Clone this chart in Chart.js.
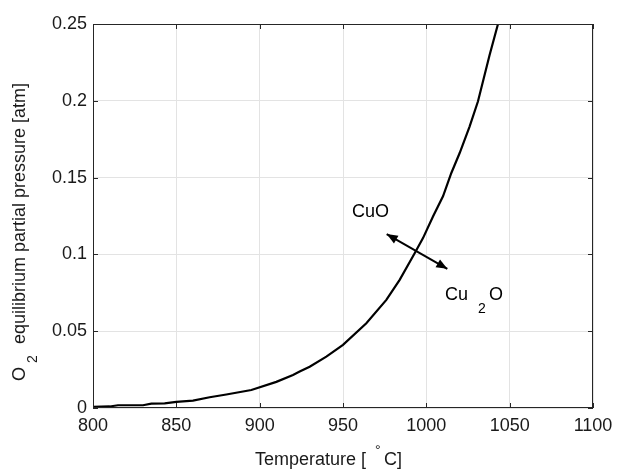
<!DOCTYPE html>
<html>
<head>
<meta charset="utf-8">
<script src="https://cdn.jsdelivr.net/npm/chart.js@4/dist/chart.umd.min.js"></script>
<style>
  html, body { margin: 0; padding: 0; background: #fff; }
  #wrap { width: 620px; height: 470px; }
</style>
</head>
<body>
<div id="wrap"><canvas id="chart" width="620" height="470"></canvas></div>
<script>
// temperature [°C] and O2 equilibrium pressure [atm]
const temps = [800, 810, 815, 830, 835, 843, 850, 860, 870, 880, 895, 910, 920, 924, 930, 940, 950, 964, 976, 984, 993, 998, 1004, 1010, 1015, 1020, 1026, 1031, 1038, 1043];
const pressure = [0.0008, 0.001, 0.0018, 0.0018, 0.0028, 0.003, 0.004, 0.0048, 0.007, 0.0088, 0.0117, 0.017, 0.0215, 0.0237, 0.0269, 0.0334, 0.0411, 0.0552, 0.0704, 0.0834, 0.1008, 0.1106, 0.1247, 0.1378, 0.153, 0.166, 0.1834, 0.1997, 0.23, 0.25];

const xTicks = [800, 850, 900, 950, 1000, 1050, 1100];
const yTicks = [0, 0.05, 0.1, 0.15, 0.2, 0.25];

// annotation anchors in data units
const arrowFrom = [976.2, 0.1132];
const arrowTo = [1012.6, 0.0906];
const cuoLabel = [955.4, 0.1245];
const cu2oLabel = [1011.2, 0.0704];

const FONT = '"Liberation Sans", Arial, Helvetica, sans-serif';
const AXIS_COLOR = '#262626';

function arrowHead(ctx, x, y, fromX, fromY) {
  const ang = Math.atan2(y - fromY, x - fromX);
  const len = 11, half = 4.5;
  ctx.beginPath();
  ctx.moveTo(x, y);
  ctx.lineTo(x - len * Math.cos(ang) + half * Math.sin(ang), y - len * Math.sin(ang) - half * Math.cos(ang));
  ctx.lineTo(x - len * Math.cos(ang) - half * Math.sin(ang), y - len * Math.sin(ang) + half * Math.cos(ang));
  ctx.closePath();
  ctx.fill();
}

const decorations = {
  id: 'decorations',
  afterDatasetsDraw(chart) {
    const { ctx, chartArea: a, scales: { x, y } } = chart;
    ctx.save();

    // box and inward ticks
    ctx.strokeStyle = AXIS_COLOR;
    ctx.lineWidth = 1;
    ctx.strokeRect(a.left + 0.5, a.top + 0.5, a.right - a.left - 1, a.bottom - a.top - 1);
    ctx.beginPath();
    xTicks.forEach(v => {
      const px = Math.round(x.getPixelForValue(v)) + 0.5;
      ctx.moveTo(px, a.bottom); ctx.lineTo(px, a.bottom - 5);
      ctx.moveTo(px, a.top); ctx.lineTo(px, a.top + 5);
    });
    yTicks.forEach(v => {
      const py = Math.round(y.getPixelForValue(v)) + 0.5;
      ctx.moveTo(a.left, py); ctx.lineTo(a.left + 5, py);
      ctx.moveTo(a.right, py); ctx.lineTo(a.right - 5, py);
    });
    ctx.stroke();

    // double arrow
    const x1 = x.getPixelForValue(arrowFrom[0]), y1 = y.getPixelForValue(arrowFrom[1]);
    const x2 = x.getPixelForValue(arrowTo[0]), y2 = y.getPixelForValue(arrowTo[1]);
    ctx.strokeStyle = '#000';
    ctx.fillStyle = '#000';
    ctx.lineWidth = 2;
    ctx.beginPath();
    ctx.moveTo(x1, y1); ctx.lineTo(x2, y2);
    ctx.stroke();
    arrowHead(ctx, x1, y1, x2, y2);
    arrowHead(ctx, x2, y2, x1, y1);

    // phase labels
    ctx.textBaseline = 'alphabetic';
    ctx.textAlign = 'left';
    ctx.fillStyle = '#000';
    ctx.font = '18px ' + FONT;
    ctx.fillText('CuO', x.getPixelForValue(cuoLabel[0]), y.getPixelForValue(cuoLabel[1]));
    const cx = x.getPixelForValue(cu2oLabel[0]), cy = y.getPixelForValue(cu2oLabel[1]);
    ctx.fillText('Cu', cx, cy);
    ctx.fillText('O', cx + 44, cy);
    ctx.font = '14px ' + FONT;
    ctx.fillText('2', cx + 33, cy + 13);

    // axis titles
    ctx.fillStyle = '#1a1a1a';
    ctx.font = '18px ' + FONT;
    ctx.fillText('Temperature [', 255, 465);
    ctx.fillText('C]', 384, 465);
    ctx.font = '14px ' + FONT;
    ctx.fillText('°', 375, 455);

    ctx.translate(25, 381);
    ctx.rotate(-Math.PI / 2);
    ctx.font = '18px ' + FONT;
    ctx.fillText('O', 0, 0);
    ctx.fillText('equilibrium partial pressure [atm]', 37, 0);
    ctx.font = '14px ' + FONT;
    ctx.fillText('2', 18, 12);

    ctx.restore();
  }
};

new Chart(document.getElementById('chart').getContext('2d'), {
  type: 'line',
  data: {
    datasets: [{
      data: temps.map((t, i) => ({ x: t, y: pressure[i] })),
      borderColor: '#000',
      borderWidth: 2.2,
      pointRadius: 0,
      tension: 0,
      fill: false
    }]
  },
  options: {
    responsive: false,
    animation: false,
    events: [],
    layout: { padding: { top: 24, right: 27, left: 0, bottom: 0 } },
    plugins: { legend: { display: false }, tooltip: { enabled: false } },
    scales: {
      x: {
        type: 'linear',
        min: 800,
        max: 1100,
        afterFit: s => { s.height = 62; },
        afterBuildTicks: s => { s.ticks = xTicks.map(v => ({ value: v })); },
        grid: { color: '#e3e3e3', drawTicks: false },
        border: { display: false },
        ticks: {
          padding: 7,
          color: '#1a1a1a',
          font: { family: FONT, size: 18 },
          maxRotation: 0,
          callback: v => String(v)
        }
      },
      y: {
        type: 'linear',
        min: 0,
        max: 0.25,
        afterFit: s => { s.width = 93; },
        afterBuildTicks: s => { s.ticks = yTicks.map(v => ({ value: v })); },
        grid: { color: '#e3e3e3', drawTicks: false },
        border: { display: false },
        ticks: {
          padding: 6,
          color: '#1a1a1a',
          font: { family: FONT, size: 18 },
          callback: v => String(+v.toFixed(2))
        }
      }
    }
  },
  plugins: [decorations]
});
</script>
</body>
</html>
